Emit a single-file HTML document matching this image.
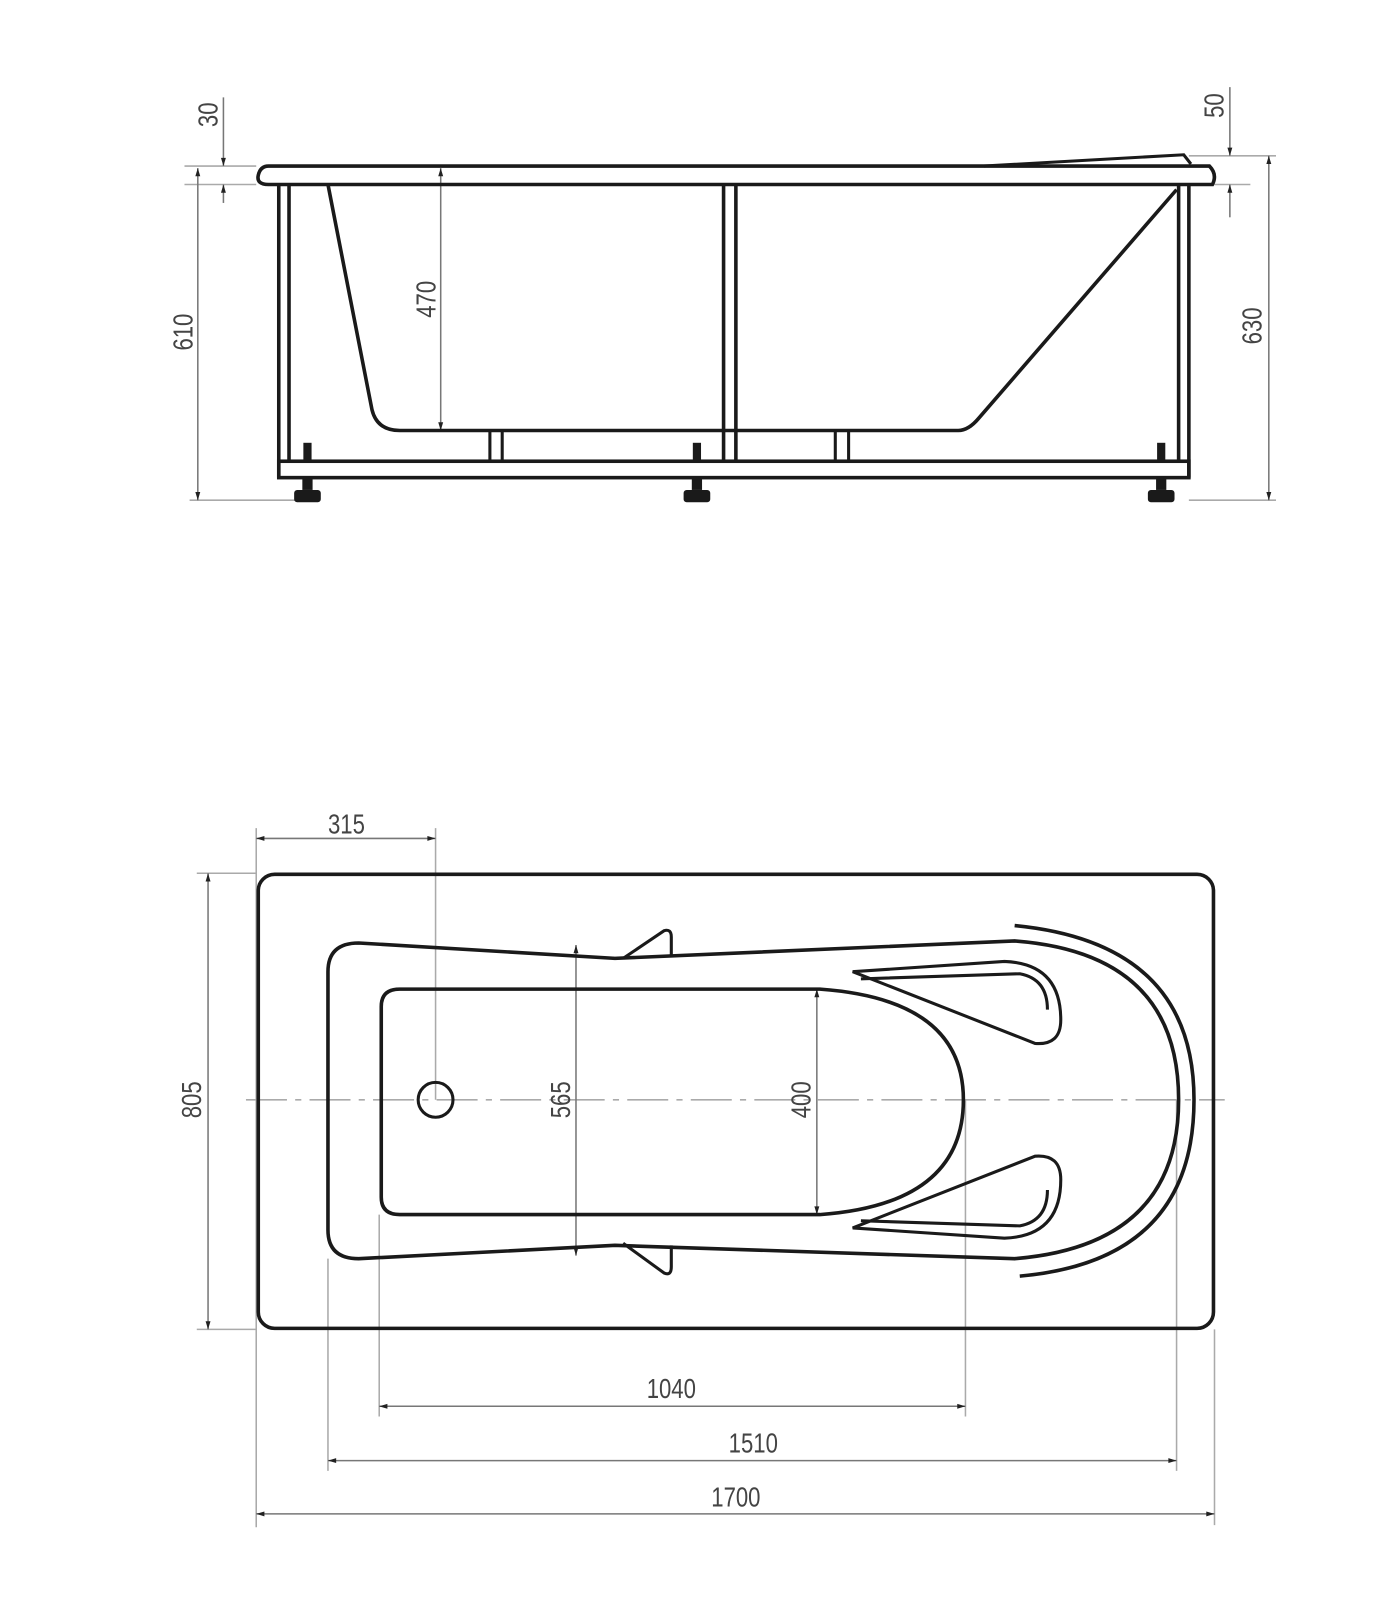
<!DOCTYPE html>
<html><head><meta charset="utf-8"><style>
html,body{margin:0;padding:0;background:#fff;}
svg{display:block;}
.t{font-family:"Liberation Sans",sans-serif;font-size:27px;fill:#444;}
</style></head><body>
<svg width="1400" height="1600" viewBox="0 0 1366 1561" preserveAspectRatio="none" xmlns="http://www.w3.org/2000/svg">
<defs>
<marker id="a" viewBox="0 0 10 10" refX="10" refY="5" markerWidth="14" markerHeight="8" orient="auto-start-reverse" markerUnits="userSpaceOnUse"><path d="M0,2 L10,5 L0,8 z" fill="#222"/></marker>
</defs>
<g fill="none" stroke="#aaa" stroke-width="1.5">
<line x1="180" y1="162" x2="250" y2="162"/><line x1="180" y1="180" x2="250" y2="180"/>
<line x1="185" y1="488" x2="300" y2="488"/>
<line x1="1160" y1="152" x2="1245" y2="152"/><line x1="1185" y1="180" x2="1220" y2="180"/>
<line x1="1160" y1="488" x2="1245" y2="488"/>
<line x1="250" y1="808" x2="250" y2="1490"/>
<line x1="425" y1="808" x2="425" y2="1073"/>
<line x1="192" y1="852" x2="250" y2="852"/><line x1="192" y1="1297" x2="250" y2="1297"/>
<line x1="370" y1="1185" x2="370" y2="1382"/>
<line x1="942" y1="1073" x2="942" y2="1382"/>
<line x1="320" y1="1228" x2="320" y2="1435"/>
<line x1="1148" y1="1073" x2="1148" y2="1435"/>
<line x1="1185" y1="1297" x2="1185" y2="1488"/>
<line x1="240" y1="1073" x2="1195" y2="1073" stroke-dasharray="40,8,6,8"/>
</g>
<g stroke="#777" stroke-width="1.5" fill="none">
<line x1="218" y1="95" x2="218" y2="162" marker-end="url(#a)"/>
<line x1="218" y1="198" x2="218" y2="180" marker-end="url(#a)"/>
<line x1="193" y1="164" x2="193" y2="488" marker-start="url(#a)" marker-end="url(#a)"/>
<line x1="430" y1="164" x2="430" y2="420" marker-start="url(#a)" marker-end="url(#a)"/>
<line x1="1200" y1="85" x2="1200" y2="152" marker-end="url(#a)"/>
<line x1="1200" y1="212" x2="1200" y2="180" marker-end="url(#a)"/>
<line x1="1238" y1="152" x2="1238" y2="488" marker-start="url(#a)" marker-end="url(#a)"/>
<line x1="250" y1="818" x2="425" y2="818" marker-start="url(#a)" marker-end="url(#a)"/>
<line x1="203" y1="852" x2="203" y2="1297" marker-start="url(#a)" marker-end="url(#a)"/>
<line x1="562" y1="922" x2="562" y2="1225" marker-start="url(#a)" marker-end="url(#a)"/>
<line x1="797" y1="965" x2="797" y2="1185" marker-start="url(#a)" marker-end="url(#a)"/>
<line x1="370" y1="1372" x2="942" y2="1372" marker-start="url(#a)" marker-end="url(#a)"/>
<line x1="320" y1="1425" x2="1148" y2="1425" marker-start="url(#a)" marker-end="url(#a)"/>
<line x1="250" y1="1477" x2="1185" y2="1477" marker-start="url(#a)" marker-end="url(#a)"/>
</g>
<g fill="none" stroke="#1a1a1a" stroke-width="3.5">
<path d="M262,162 L1180,162 Q1188,170 1183,180 L262,180 Q250,180 252,171 Q254,162 262,162 Z"/>
<path d="M960,162 L1155,151 L1162,160" stroke-width="3"/>
<line x1="272" y1="180" x2="272" y2="466"/><line x1="282" y1="180" x2="282" y2="450"/>
<line x1="1150" y1="180" x2="1150" y2="450"/><line x1="1160" y1="180" x2="1160" y2="466"/>
<line x1="706" y1="180" x2="706" y2="450"/><line x1="718" y1="180" x2="718" y2="450"/>
<rect x="272" y="450" width="888" height="16"/>
<path d="M320,180 L363,400 Q368,420 390,420 L935,420 Q945,420 955,408 L1148,185"/>
<line x1="478" y1="420" x2="478" y2="450" stroke-width="3"/><line x1="490" y1="420" x2="490" y2="450" stroke-width="3"/>
<line x1="815" y1="420" x2="815" y2="450" stroke-width="3"/><line x1="828" y1="420" x2="828" y2="450" stroke-width="3"/>
</g>
<g fill="#1a1a1a">
<rect x="296" y="432" width="8" height="18"/><rect x="676" y="432" width="8" height="18"/><rect x="1129" y="432" width="8" height="18"/>
<rect x="295" y="466" width="10" height="12"/><rect x="287" y="478" width="26" height="12" rx="3"/>
<rect x="675" y="466" width="10" height="12"/><rect x="667" y="478" width="26" height="12" rx="3"/>
<rect x="1128" y="466" width="10" height="12"/><rect x="1120" y="478" width="26" height="12" rx="3"/>
</g>
<g fill="none" stroke="#1a1a1a" stroke-width="3.5">
<rect x="252" y="853" width="932" height="443" rx="16"/>
<path d="M350,920 L600,935 L990,918 Q1150,930 1150,1073 Q1150,1215 990,1228 L600,1215 L350,1228 Q320,1228 320,1200 L320,948 Q320,920 350,920 Z"/>
<path d="M390,965 L800,965 Q940,975 940,1073 Q940,1175 800,1185 L390,1185 Q372,1185 372,1168 L372,982 Q372,965 390,965 Z"/>
<circle cx="425" cy="1073" r="17" stroke-width="3"/>
<path d="M990,903 Q1165,920 1165,1073 Q1165,1230 995,1245"/>
<path d="M608,935 L648,908 Q655,906 655,914 L655,933" stroke-width="3"/>
<path d="M608,1213 L648,1242 Q655,1245 655,1236 L655,1215" stroke-width="3"/>
<path d="M832,948 L980,938 Q1035,940 1035,995 Q1035,1020 1010,1018 Z" stroke-width="3"/>
<path d="M840,955 L995,950 Q1022,955 1022,985" stroke-width="3"/>
<path d="M832,1198 L980,1208 Q1035,1206 1035,1151 Q1035,1126 1010,1128 Z" stroke-width="3"/>
<path d="M840,1191 L995,1196 Q1022,1191 1022,1161" stroke-width="3"/>
</g>
<g class="t">
<text transform="translate(212,112) rotate(-90) scale(0.8,1)" text-anchor="middle">30</text>
<text transform="translate(188,324) rotate(-90) scale(0.8,1)" text-anchor="middle">610</text>
<text transform="translate(425,292) rotate(-90) scale(0.8,1)" text-anchor="middle">470</text>
<text transform="translate(1194,103) rotate(-90) scale(0.8,1)" text-anchor="middle">50</text>
<text transform="translate(1231,318) rotate(-90) scale(0.8,1)" text-anchor="middle">630</text>
<text transform="translate(338,813) scale(0.8,1)" text-anchor="middle">315</text>
<text transform="translate(196,1073) rotate(-90) scale(0.8,1)" text-anchor="middle">805</text>
<text transform="translate(556,1073) rotate(-90) scale(0.8,1)" text-anchor="middle">565</text>
<text transform="translate(791,1073) rotate(-90) scale(0.8,1)" text-anchor="middle">400</text>
<text transform="translate(655,1364) scale(0.8,1)" text-anchor="middle">1040</text>
<text transform="translate(735,1417) scale(0.8,1)" text-anchor="middle">1510</text>
<text transform="translate(718,1470) scale(0.8,1)" text-anchor="middle">1700</text>
</g>
</svg>
</body></html>
